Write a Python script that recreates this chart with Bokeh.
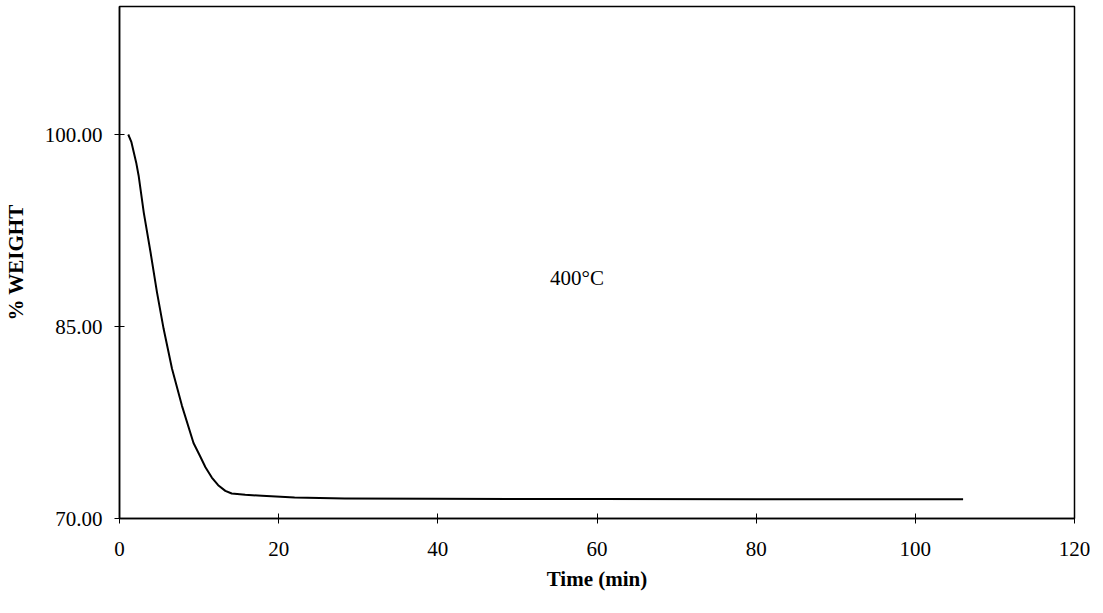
from bokeh.plotting import figure
from bokeh.models import Range1d, FixedTicker, NumeralTickFormatter, ColumnDataSource
from bokeh.core.properties import value
from bokeh.embed import file_html
from bokeh.resources import INLINE

# Data
time_min = [1.1, 1.5, 1.8, 2.1, 2.4, 3.05, 3.9, 4.7, 5.55, 6.6, 7.85, 9.3, 10.1, 10.8,
            11.6, 12.4, 13.3, 14.1, 15.8, 17.9, 22.0, 28.3, 40.0, 60.0, 80.0, 100.0, 106.0]
weight_pct = [100.0, 99.4, 98.6, 97.8, 96.8, 93.9, 90.8, 87.7, 84.8, 81.7, 78.8, 75.9, 74.9, 74.0,
              73.2, 72.6, 72.16, 71.95, 71.85, 71.78, 71.65, 71.57, 71.54, 71.52, 71.51, 71.5, 71.5]
x_ticks = [0, 20, 40, 60, 80, 100, 120]
y_ticks = [70, 85, 100]
annotation_text = ["400°C"]
annotation_x = [54.1]
annotation_y = [88.8]

FONT = "Liberation Serif"

p = figure(width=1090, height=600, output_backend="svg", toolbar_location=None,
           x_range=Range1d(0, 120), y_range=Range1d(70, 110),
           min_border_left=116, min_border_right=16, min_border_top=6, min_border_bottom=82)

p.xgrid.visible = False
p.ygrid.visible = False
p.outline_line_color = "black"
p.outline_line_width = 1.5
p.background_fill_color = "white"
p.border_fill_color = "white"

p.line(time_min, weight_pct, line_color="black", line_width=2, line_join="round")

src = ColumnDataSource(dict(x=annotation_x, y=annotation_y, t=annotation_text))
p.text(x="x", y="y", text="t", source=src, text_font=value(FONT), text_font_size="21px",
       text_align="left", text_baseline="middle", text_color="black")

p.xaxis.ticker = FixedTicker(ticks=x_ticks)
p.yaxis.ticker = FixedTicker(ticks=y_ticks)
p.yaxis.formatter = NumeralTickFormatter(format="0.00")

for ax in (p.xaxis[0], p.yaxis[0]):
    ax.axis_line_color = "black"
    ax.axis_line_width = 1.5
    ax.major_tick_line_color = "black"
    ax.major_tick_in = 5
    ax.major_tick_out = 5
    ax.minor_tick_line_color = None
    ax.major_label_text_font = FONT
    ax.major_label_text_font_size = "21px"
    ax.major_label_text_color = "black"
    ax.axis_label_text_font = FONT
    ax.axis_label_text_font_size = "21px"
    ax.axis_label_text_font_style = "bold"
    ax.axis_label_text_color = "black"

p.xaxis.axis_label = "Time (min)"
p.yaxis.axis_label = "% WEIGHT"
p.xaxis.major_label_standoff = 18
p.xaxis.axis_label_standoff = 8
p.yaxis.major_label_standoff = 12
p.yaxis.axis_label_standoff = 14

open("out.html", "w").write(file_html(p, INLINE))
